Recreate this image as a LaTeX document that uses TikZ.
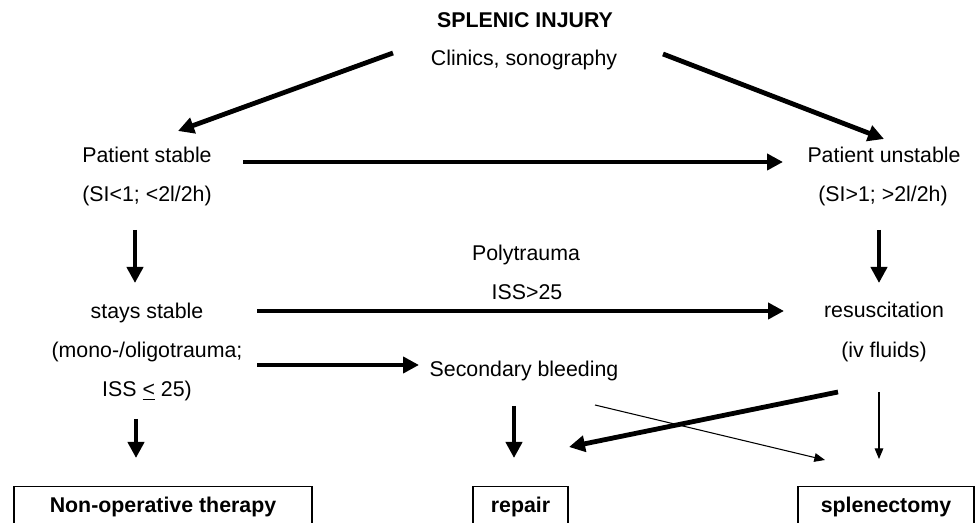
\documentclass[tikz,border=0pt]{standalone}
\usepackage{fontspec}
\setmainfont{Liberation Sans}
\usetikzlibrary{arrows.meta}

\tikzset{
  txt/.style={anchor=base,inner sep=0pt,font=\fontsize{16}{19}\selectfont},
  hdr/.style={txt,font=\fontsize{16}{19}\selectfont\bfseries},
  endbox/.style={draw,line width=0.8pt,anchor=north,inner xsep=0pt,inner ysep=7.5pt,
    text height=12pt,text depth=30pt,font=\fontsize{16}{19}\selectfont\bfseries},
  bigarrow/.style={line width=3.6pt,-{Triangle[length=12pt,width=12pt]}},
  thinarrow/.style={line width=0.8pt,-{Triangle[length=8pt,width=6.5pt]}}
}

\begin{document}
\begin{tikzpicture}[line join=miter,x=0.75pt,y=-0.75pt]
  \useasboundingbox (0,0) rectangle (976,523);
  \clip (0,0) rectangle (976,523);
  % texts
  \node[hdr] (injury) at (525,28) {SPLENIC INJURY};
  \node[txt] (clinics) at (524,66) {Clinics, sonography};
  \node[txt] (stable) at (147,163) {Patient stable};
  \node[txt] (stablecrit) at (147,202) {(SI<1; <2l/2h)};
  \node[txt] (unstable) at (884,163) {Patient unstable};
  \node[txt] (unstablecrit) at (883,202) {(SI>1; >2l/2h)};
  \node[txt] (poly) at (526,261) {Polytrauma};
  \node[txt] (iss) at (527,300) {ISS>25};
  \node[txt] (stays) at (147,319) {stays stable};
  \node[txt] (mono) at (147,358) {(mono-/oligotrauma;};
  \node[txt] (isslow) at (147,397) {ISS \underline{<} 25)};
  \node[txt] (resus) at (884,318) {resuscitation};
  \node[txt] (fluids) at (884,358) {(iv fluids)};
  \node[txt] (bleed) at (524,377) {Secondary bleeding};
  % therapy boxes
  \node[endbox,minimum width=223.5pt] (nonop) at (163,486) {Non-operative therapy};
  \node[endbox,minimum width=71.25pt] (repair) at (520.5,486) {repair};
  \node[endbox,minimum width=132pt] (splen) at (886,486) {splenectomy};
  % arrow ends
  \coordinate (injL) at (393,53);
  \coordinate (injR) at (663,54);
  \coordinate (stableT) at (178,131);
  \coordinate (unstableT) at (884,139);
  \coordinate (stableR) at (243,162);
  \coordinate (unstableL) at (783,162);
  \coordinate (stableB) at (135,230);
  \coordinate (staysT) at (135,283);
  \coordinate (unstableB) at (879,230);
  \coordinate (resusT) at (879,283);
  \coordinate (staysR) at (257,311);
  \coordinate (resusL) at (784,311);
  \coordinate (monoR) at (257,365);
  \coordinate (bleedL) at (419,365);
  \coordinate (isslowB) at (136,419);
  \coordinate (nonopT) at (136,458);
  \coordinate (bleedB) at (514,406);
  \coordinate (repairT) at (514,458);
  \coordinate (fluidsL) at (838,392);
  \coordinate (repairR) at (569,447);
  \coordinate (bleedR) at (595,405);
  \coordinate (splenL) at (825,460);
  \coordinate (fluidsB) at (879,392);
  \coordinate (splenT) at (879,459);
  % arrows
  \draw[bigarrow] (injL) -- (stableT);
  \draw[bigarrow] (injR) -- (unstableT);
  \draw[bigarrow] (stableR) -- (unstableL);
  \draw[bigarrow] (stableB) -- (staysT);
  \draw[bigarrow] (unstableB) -- (resusT);
  \draw[bigarrow] (staysR) -- (resusL);
  \draw[bigarrow] (monoR) -- (bleedL);
  \draw[bigarrow] (isslowB) -- (nonopT);
  \draw[bigarrow] (bleedB) -- (repairT);
  \draw[bigarrow] (fluidsL) -- (repairR);
  \draw[thinarrow] (bleedR) -- (splenL);
  \draw[thinarrow] (fluidsB) -- (splenT);
\end{tikzpicture}
\end{document}
